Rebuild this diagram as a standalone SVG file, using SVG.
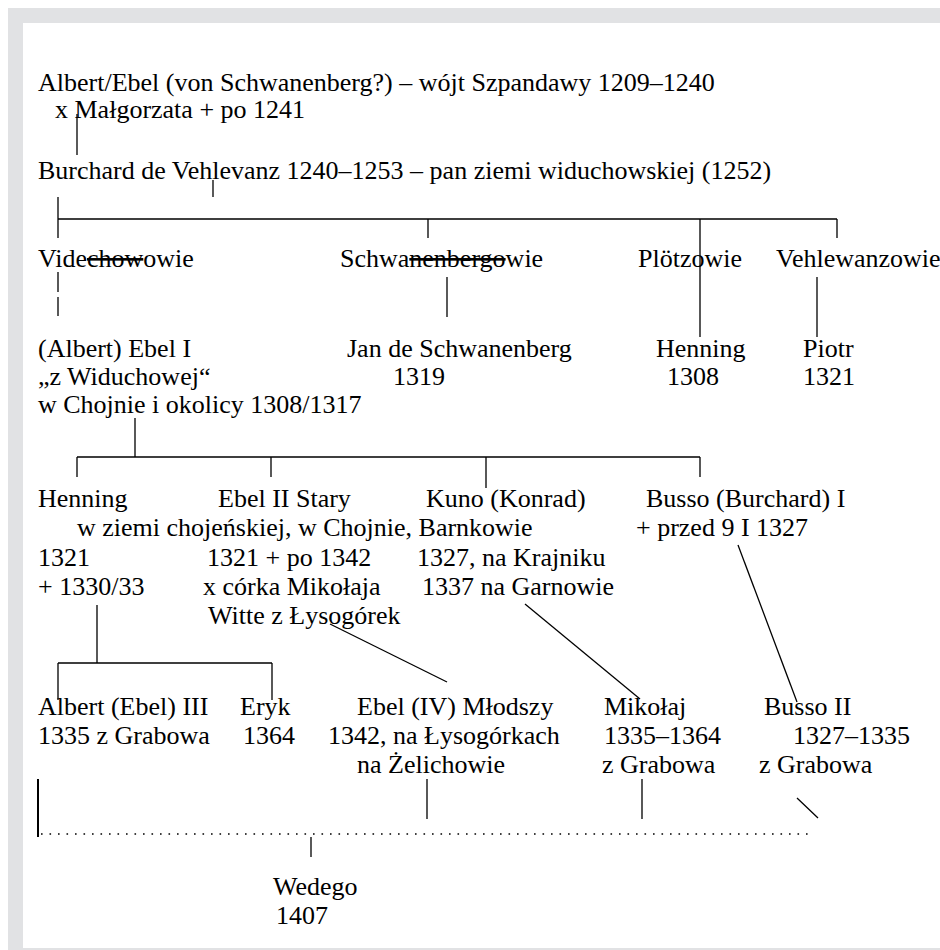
<svg xmlns="http://www.w3.org/2000/svg" width="940" height="950" viewBox="0 0 940 950">
<style>
.t{font-family:"Liberation Serif","Times New Roman",serif;font-size:26px;fill:#000}
.ln{stroke:#000;stroke-width:1.3;fill:none}
.dot{stroke:#000;stroke-width:1.6;fill:none;stroke-dasharray:1.6 6.9}
.s{text-decoration:line-through}
</style>
<rect x="8" y="8" width="932" height="942" fill="#e1e2e4"/>
<rect x="23" y="23" width="917" height="925" fill="#fff"/>
<g id="connectors">
<path class="ln" d="M77,114V155"/>
<path class="ln" d="M213,180V197"/>
<path class="ln" d="M58,197V238M58,219H837M428,219V238M700,219V337M837,219V238"/>
<path class="ln" d="M58,272V292M58,297V316"/>
<path class="ln" d="M447,277V317"/>
<path class="ln" d="M817,277V337"/>
<path class="ln" d="M135,418V457M77,457H700M77,457V477M271,457V477M486,457V488M700,457V477"/>
<path class="ln" d="M97,605V663M58,663H272M58,663V700M272,663V700"/>
<path class="ln" d="M330,624L447,682"/>
<path class="ln" d="M525,604L640,699"/>
<path class="ln" d="M738,545L797,702"/>
<path class="ln" d="M38,779V837" style="stroke-width:2"/>
<path class="ln" d="M427,779V819M642,779V819M797,798L818,818"/>
<path class="dot" d="M41,834H813"/>
<path class="ln" d="M311,837V857"/>
</g>
<g id="albert">
<text class="t" x="38" y="91">Albert/Ebel (von Schwanenberg?) – wójt Szpandawy 1209–1240</text>
<text class="t" x="55" y="118">x Małgorzata + po 1241</text>
</g>
<g id="burchard">
<text class="t" x="38" y="179">Burchard de Vehlevanz 1240–1253 – pan ziemi widuchowskiej (1252)</text>
</g>
<g id="videchowowie"><text class="t" x="38" y="267">Vide<tspan class="s">chow</tspan>owie</text></g>
<g id="schwanenbergowie"><text class="t" x="340" y="267">Schwa<tspan class="s">nenbergo</tspan>wie</text></g>
<g id="plotzowie"><text class="t" x="638" y="267">Plötzowie</text></g>
<g id="vehlewanzowie"><text class="t" x="776" y="267">Vehlewanzowie</text></g>
<g id="ebel1">
<text class="t" x="38" y="357">(Albert) Ebel I</text>
<text class="t" x="38" y="385">„z Widuchowej“</text>
<text class="t" x="38" y="413">w Chojnie i okolicy 1308/1317</text>
</g>
<g id="jan">
<text class="t" x="347" y="357">Jan de Schwanenberg</text>
<text class="t" x="393" y="385">1319</text>
</g>
<g id="henning1308">
<text class="t" x="656" y="357">Henning</text>
<text class="t" x="667" y="385">1308</text>
</g>
<g id="piotr">
<text class="t" x="803" y="357">Piotr</text>
<text class="t" x="803" y="385">1321</text>
</g>
<g id="henning1321">
<text class="t" x="38" y="507">Henning</text>
<text class="t" x="38" y="566">1321</text>
<text class="t" x="38" y="595">+ 1330/33</text>
</g>
<g id="ebel2">
<text class="t" x="218" y="507">Ebel II Stary</text>
<text class="t" x="77" y="536">w ziemi chojeńskiej, w Chojnie, Barnkowie</text>
<text class="t" x="207" y="566">1321 + po 1342</text>
<text class="t" x="203" y="595">x córka Mikołaja</text>
<text class="t" x="208" y="624">Witte z Łysogórek</text>
</g>
<g id="kuno">
<text class="t" x="426" y="507">Kuno (Konrad)</text>
<text class="t" x="417" y="566">1327, na Krajniku</text>
<text class="t" x="422" y="595">1337 na Garnowie</text>
</g>
<g id="busso1">
<text class="t" x="646" y="507">Busso (Burchard) I</text>
<text class="t" x="636" y="536">+ przed 9 I 1327</text>
</g>
<g id="albert3">
<text class="t" x="38" y="715">Albert (Ebel) III</text>
<text class="t" x="38" y="744">1335 z Grabowa</text>
</g>
<g id="eryk">
<text class="t" x="240" y="715">Eryk</text>
<text class="t" x="243" y="744">1364</text>
</g>
<g id="ebel4">
<text class="t" x="357" y="715">Ebel (IV) Młodszy</text>
<text class="t" x="328" y="744">1342, na Łysogórkach</text>
<text class="t" x="357" y="773">na Żelichowie</text>
</g>
<g id="mikolaj">
<text class="t" x="604" y="715">Mikołaj</text>
<text class="t" x="604" y="744">1335–1364</text>
<text class="t" x="602" y="773">z Grabowa</text>
</g>
<g id="busso2">
<text class="t" x="764" y="715">Busso II</text>
<text class="t" x="793" y="744">1327–1335</text>
<text class="t" x="759" y="773">z Grabowa</text>
</g>
<g id="wedego">
<text class="t" x="273" y="895">Wedego</text>
<text class="t" x="276" y="924">1407</text>
</g>
</svg>
